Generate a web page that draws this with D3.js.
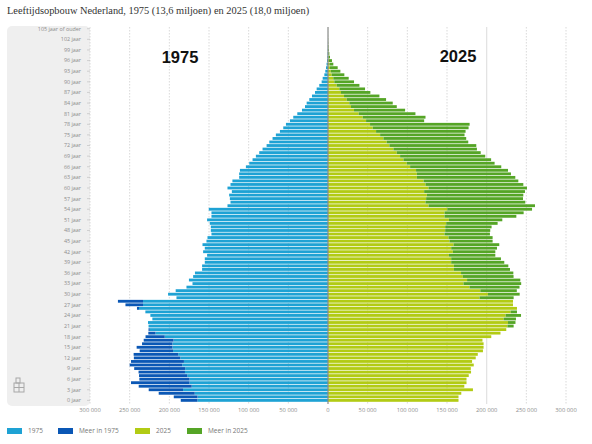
<!DOCTYPE html>
<html>
<head>
<meta charset="utf-8">
<script src="https://d3js.org/d3.v7.min.js"></script>
<style>
  html, body { margin: 0; padding: 0; background: #fff; }
  svg { display: block; }
</style>
</head>
<body>
<svg width="592" height="444"></svg>
<script>
// ages 0 .. 105 (105 = "105 jaar of ouder")
var ages = d3.range(0, 106);

// population per age
var pop1975 = [185600,194400,213400,226000,238600,248300,237800,238200,238800,244300,
  250000,248300,244700,245000,237400,241200,234400,232300,230000,226500,
  226200,226200,226900,221400,223900,230200,240800,255300,264800,191000,
  201600,192000,178400,170800,175300,170000,167700,158700,158700,155300,
  155300,152400,157400,155300,158200,153200,151900,146900,147700,147700,
  149000,152400,146900,146900,150300,126700,122900,123700,124600,121200,
  126700,122900,120500,112000,112000,111000,103500,99300,95100,90900,
  86700,82500,77400,74000,69900,65700,60600,56400,53000,48000,
  43800,38700,32800,29000,26900,23600,20200,16400,14300,11000,
  8000,6700,4600,3400,2500,1800,1200,800,500,300,
  200,100,50,30,20,20];

var pop2025 = [164500,164500,168000,182700,171800,174600,174600,177400,180300,180000,
  183700,181600,186200,188800,195300,196100,196100,194700,205800,217400,
  224700,234000,236300,236900,243300,238200,238200,233200,233200,234000,
  241600,238000,241400,243500,242400,233900,233600,229400,227300,222200,
  218000,210900,210900,213000,215900,207500,207500,204100,204500,206200,
  213800,219700,237400,246600,257200,260900,248700,245800,246200,248300,
  250800,246200,239900,236100,230600,226900,218400,210000,205600,198200,
  192500,187700,186900,176800,174200,172100,173400,177200,178500,121200,
  122900,110200,97200,86700,81600,73200,64800,53400,46700,39600,
  32800,26100,20600,15600,12200,6700,5000,2500,1700,1100,
  700,400,250,150,100,100];

var xTicks = [-300000,-250000,-200000,-150000,-100000,-50000,0,50000,100000,150000,200000,250000,300000];
var ageTicks = d3.range(0, 106, 3);
var legendKeys = ["1975", "Meer in 1975", "2025", "Meer in 2025"];

var color = d3.scaleOrdinal()
    .domain(legendKeys)
    .range(["#1ea2d4", "#0a57b5", "#b2cb14", "#55a526"]);

var svg = d3.select("svg");

var x = d3.scaleLinear()
    .domain([-300000, 300000])
    .range([90, 566]);

var y = d3.scaleBand()
    .domain(ages)
    .range([401.8, 27.3])
    .paddingInner(0.2);

var fmt = d3.formatLocale({decimal: ",", thousands: " ", grouping: [3], currency: ["", ""]}).format(",");

// title
svg.append("text")
    .attr("x", 7)
    .attr("y", 14)
    .attr("font-family", "Liberation Serif, serif")
    .attr("font-size", 10.4)
    .attr("fill", "#333")
    .text("Leeftijdsopbouw Nederland, 1975 (13,6 miljoen) en 2025 (18,0 miljoen)");

// grey panel behind the age labels
svg.append("rect")
    .attr("x", 7)
    .attr("y", 26)
    .attr("width", 83)
    .attr("height", 380)
    .attr("rx", 5)
    .attr("fill", "#efefef");

// grid lines
svg.append("g")
  .selectAll("line")
  .data(xTicks.filter(function(d) { return d !== 0; }))
  .enter().append("line")
    .attr("x1", function(d) { return x(d); })
    .attr("x2", function(d) { return x(d); })
    .attr("y1", 27)
    .attr("y2", 404)
    .attr("stroke", function(d) { return d === 200000 ? "#e2e2e2" : "#cfcfcf"; })
    .attr("stroke-width", function(d) { return d === 200000 ? 1.2 : 0.8; })
    .attr("stroke-dasharray", function(d) { return d === 200000 ? null : "1.5,1.5"; });

// x axis labels
svg.append("g")
    .attr("font-family", "Open Sans, sans-serif")
    .attr("font-size", 5.8)
    .attr("fill", "#8c8c8c")
    .attr("text-anchor", "middle")
  .selectAll("text")
  .data(xTicks)
  .enter().append("text")
    .attr("x", function(d) { return x(d); })
    .attr("y", 412)
    .text(function(d) { return fmt(Math.abs(d)); });

// age labels
svg.append("g")
    .attr("font-family", "Open Sans, sans-serif")
    .attr("font-size", 5.4)
    .attr("fill", "#8c8c8c")
    .attr("text-anchor", "end")
  .selectAll("text")
  .data(ageTicks)
  .enter().append("text")
    .attr("x", 81)
    .attr("y", function(d) { return y(d) + y.bandwidth() / 2; })
    .attr("dy", "0.35em")
    .text(function(d) { return d === 105 ? "105 jaar of ouder" : d + " jaar"; });

// small ticks next to the age labels
svg.append("g")
  .selectAll("line")
  .data(ageTicks)
  .enter().append("line")
    .attr("x1", 87)
    .attr("x2", 90)
    .attr("y1", function(d) { return y(d) + y.bandwidth() / 2; })
    .attr("y2", function(d) { return y(d) + y.bandwidth() / 2; })
    .attr("stroke", "#bbb")
    .attr("stroke-width", 0.6);

// bars: the common part and the surplus on each side
var rows = ages.map(function(a, i) {
  return {age: a, v75: pop1975[i], v25: pop2025[i], common: Math.min(pop1975[i], pop2025[i])};
});

var bars = svg.append("g");

bars.selectAll(".l1975")
  .data(rows)
  .enter().append("rect")
    .attr("x", function(d) { return x(-d.common); })
    .attr("y", function(d) { return y(d.age); })
    .attr("width", function(d) { return x(0) - x(-d.common); })
    .attr("height", y.bandwidth())
    .attr("fill", color("1975"));

bars.selectAll(".m1975")
  .data(rows.filter(function(d) { return d.v75 > d.v25; }))
  .enter().append("rect")
    .attr("x", function(d) { return x(-d.v75); })
    .attr("y", function(d) { return y(d.age); })
    .attr("width", function(d) { return x(-d.common) - x(-d.v75); })
    .attr("height", y.bandwidth())
    .attr("fill", color("Meer in 1975"));

bars.selectAll(".r2025")
  .data(rows)
  .enter().append("rect")
    .attr("x", x(0))
    .attr("y", function(d) { return y(d.age); })
    .attr("width", function(d) { return x(d.common) - x(0); })
    .attr("height", y.bandwidth())
    .attr("fill", color("2025"));

bars.selectAll(".m2025")
  .data(rows.filter(function(d) { return d.v25 > d.v75; }))
  .enter().append("rect")
    .attr("x", function(d) { return x(d.common); })
    .attr("y", function(d) { return y(d.age); })
    .attr("width", function(d) { return x(d.v25) - x(d.common); })
    .attr("height", y.bandwidth())
    .attr("fill", color("Meer in 2025"));

// centre line
svg.append("line")
    .attr("x1", x(0))
    .attr("x2", x(0))
    .attr("y1", 27)
    .attr("y2", 404)
    .attr("stroke", "#8a8a8a")
    .attr("stroke-width", 1.2);

// big year labels
svg.append("text")
    .attr("x", 180)
    .attr("y", 63)
    .attr("text-anchor", "middle")
    .attr("font-family", "Liberation Sans, Arial, sans-serif")
    .attr("font-weight", "bold")
    .attr("font-size", 16.5)
    .attr("fill", "#111")
    .text("1975");

svg.append("text")
    .attr("x", 458)
    .attr("y", 62)
    .attr("text-anchor", "middle")
    .attr("font-family", "Liberation Sans, Arial, sans-serif")
    .attr("font-weight", "bold")
    .attr("font-size", 16.5)
    .attr("fill", "#111")
    .text("2025");

// small logo in the panel
var logo = svg.append("g")
    .attr("fill", "none")
    .attr("stroke", "#a8a8a8")
    .attr("stroke-width", 1);
logo.append("rect").attr("x", 14).attr("y", 383).attr("width", 10).attr("height", 9);
logo.append("rect").attr("x", 16).attr("y", 378).attr("width", 4).attr("height", 5);
logo.append("line").attr("x1", 14).attr("x2", 24).attr("y1", 387.5).attr("y2", 387.5);
logo.append("line").attr("x1", 19).attr("x2", 19).attr("y1", 383).attr("y2", 392);

// legend
var legendX = [7, 58, 135, 187];
var legend = svg.append("g")
    .attr("font-family", "Open Sans, sans-serif")
    .attr("font-size", 6.5)
    .attr("fill", "#777")
  .selectAll("g")
  .data(legendKeys)
  .enter().append("g")
    .attr("transform", function(d, i) { return "translate(" + legendX[i] + ",428)"; });

legend.append("rect")
    .attr("width", 15)
    .attr("height", 6)
    .attr("fill", color);

legend.append("text")
    .attr("x", 21)
    .attr("y", 3)
    .attr("dy", "0.35em")
    .text(function(d) { return d; });
</script>
</body>
</html>
